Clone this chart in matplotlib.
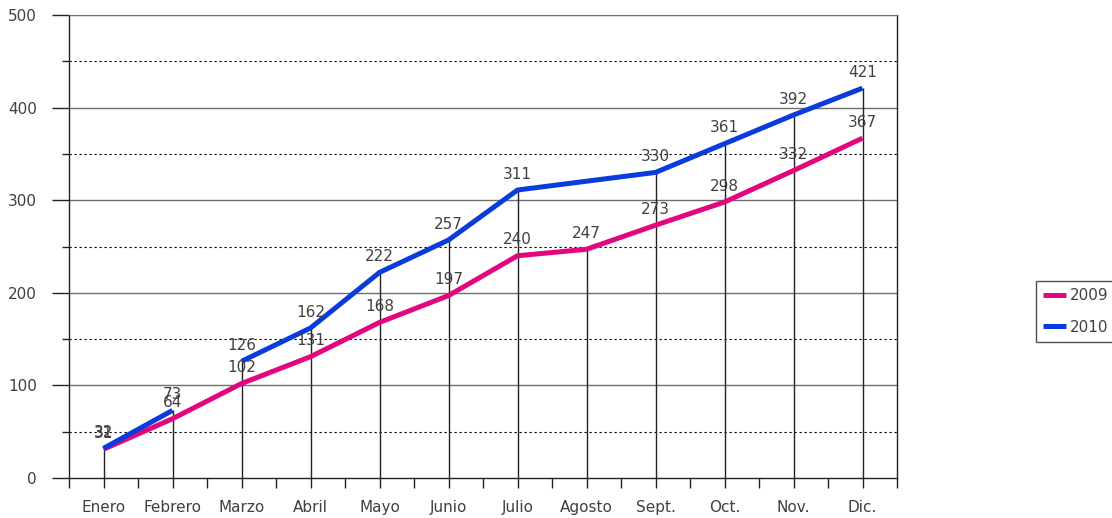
import numpy as np
import matplotlib.pyplot as plt
from matplotlib.ticker import MultipleLocator

meses = ['Enero', 'Febrero', 'Marzo', 'Abril', 'Mayo', 'Junio', 'Julio',
         'Agosto', 'Sept.', 'Oct.', 'Nov.', 'Dic.']
v2009 = [31, 64, 102, 131, 168, 197, 240, 247, 273, 298, 332, 367]
# 2010: no line between Febrero and Marzo, no value for Agosto
v2010 = [32, 73, 126, 162, 222, 257, 311, None, 330, 361, 392, 421]

c2009 = '#E2067F'
c2010 = '#0A3CDC'
gris = '#404040'

plt.rcParams['font.family'] = 'DejaVu Sans'
plt.rcParams['font.size'] = 11

fig = plt.figure(figsize=(11.12, 5.18), dpi=100)
ax = fig.add_axes([69 / 1112, 1 - 478 / 518, 828 / 1112, 463 / 518])

x = np.arange(len(meses))

# grid: solid at 100s, dotted at 50s
for y in range(100, 501, 100):
    ax.axhline(y, color='#6f6f6f', lw=1, zorder=1)
for y in range(50, 500, 100):
    ax.axhline(y, color='black', lw=0.8, ls=(0, (2, 2.5)), zorder=1)

# drop lines
for i in x:
    vals = [v for v in (v2009[i], v2010[i]) if v is not None]
    ax.vlines(i, 0, max(vals), color='#222222', lw=1, zorder=2)

# 2009
ax.plot(x, v2009, color=c2009, lw=3.6, solid_capstyle='butt', zorder=3, label='2009')

# 2010 in two pieces
ax.plot(x[:2], v2010[:2], color=c2010, lw=3.6, solid_capstyle='butt', zorder=4)
xb = [i for i in x[2:] if v2010[i] is not None]
yb = [v2010[i] for i in xb]
ax.plot(xb, yb, color=c2010, lw=3.6, solid_capstyle='butt', zorder=4, label='2010')

for i in x:
    ax.annotate(str(v2009[i]), (i, v2009[i]), xytext=(0, 6), textcoords='offset points',
                ha='center', va='bottom', color=gris, fontsize=11, zorder=5)
    if v2010[i] is not None:
        ax.annotate(str(v2010[i]), (i, v2010[i]), xytext=(0, 6), textcoords='offset points',
                    ha='center', va='bottom', color=gris, fontsize=11, zorder=5)

ax.set_xlim(-0.5, 11.5)
ax.set_ylim(0, 500)
ax.set_xticks(x)
ax.set_xticklabels(meses)
ax.set_xticks(np.arange(-0.5, 12, 1), minor=True)
ax.yaxis.set_major_locator(MultipleLocator(100))
ax.yaxis.set_minor_locator(MultipleLocator(50))

ax.tick_params(axis='x', which='both', length=7, width=1, color='#222222',
               pad=9, labelcolor=gris)
ax.tick_params(axis='y', which='major', length=12, width=1, color='#222222',
               pad=11, labelcolor=gris)
ax.tick_params(axis='y', which='minor', length=5, width=1, color='#222222')

for s in ['left', 'bottom', 'right']:
    ax.spines[s].set_color('#222222')
    ax.spines[s].set_linewidth(1)
ax.spines['top'].set_color('#6f6f6f')

leg = fig.legend(loc='upper left', bbox_to_anchor=(1036 / 1112, 1 - 281 / 518),
                 borderaxespad=0, frameon=True, fancybox=False, handlelength=1.5,
                 handletextpad=0.25, labelspacing=1.1, borderpad=0.45, fontsize=11,
                 labelcolor=gris)
leg.get_frame().set_edgecolor('#222222')
leg.get_frame().set_linewidth(1)

fig.savefig('out.png', dpi=100)
